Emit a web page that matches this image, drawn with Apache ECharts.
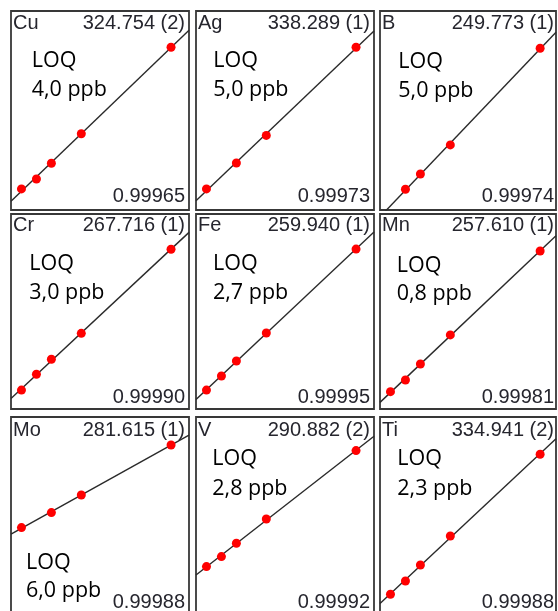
<!DOCTYPE html>
<html><head><meta charset="utf-8">
<script src="https://cdn.jsdelivr.net/npm/echarts@6/dist/echarts.min.js"></script>
<style>html,body{margin:0;padding:0;background:#fff}#c{width:558px;height:611px}</style>
</head><body><div id="c"></div>
<script>
// ---- data ----
const elements = ['Cu','Ag','B','Cr','Fe','Mn','Mo','V','Ti'];
const wavelengths = ['324.754 (2)','338.289 (1)','249.773 (1)','267.716 (1)','259.940 (1)','257.610 (1)','281.615 (1)','290.882 (2)','334.941 (2)'];
const loqValues = ['4,0 ppb','5,0 ppb','5,0 ppb','3,0 ppb','2,7 ppb','0,8 ppb','6,0 ppb','2,8 ppb','2,3 ppb'];
const correlations = ['0.99965','0.99973','0.99974','0.99990','0.99995','0.99981','0.99988','0.99992','0.99988'];

// concentration (ppb) and signal (relative units) of each standard
const concCu = [0,10,20,40,100];   const signalCu = [10.6,15.6,23.5,38.3,81.8];
const concAg = [0,20,40,100];      const signalAg = [10.6,23.6,37.5,81.8];
const concB  = [10,20,40,100];     const signalB  = [10.4,18.1,32.7,81.3];
const concCr = [0,10,20,40,100];   const signalCr = [9.7,17.8,25.5,38.8,81.9];
const concFe = [0,10,20,40,100];   const signalFe = [9.7,16.9,24.6,39.0,82.0];
const concMn = [0,10,20,40,100];   const signalMn = [8.9,14.9,23.1,38.0,81.0];
const concMo = [0,20,40,100];      const signalMo = [44.7,52.2,61.0,86.0];
const concV  = [0,10,20,40,100];   const signalV  = [25.2,30.2,36.9,49.0,83.2];
const concTi = [0,10,20,40,100];   const signalTi = [11.4,18.0,26.0,40.5,81.4];

const concs = [concCu,concAg,concB,concCr,concFe,concMn,concMo,concV,concTi];
const signals = [signalCu,signalAg,signalB,signalCr,signalFe,signalMn,signalMo,signalV,signalTi];

// ---- layout ----
const colLeft = [11,196,380], colWidth = [178,178,176], colXMax = [112,112,110.6];
const rowTop = [11,214,417], rowHeight = [199,195,200];
const labelY = [23.5,225.5,430.5], corrY = [196,397,602.5];
const loqPos = [[31.7,61,90],[213.3,61,90.2],[398.3,62,90.8],
                [29.3,264,292.5],[213,264,293],[396.7,265.5,294],
                [26,562.5,590.8],[212.3,459,489],[397.3,459,489]];
const X_MIN = -7;

function fit(xs, ys){
  const n = xs.length;
  const mx = xs.reduce((a,b)=>a+b,0)/n, my = ys.reduce((a,b)=>a+b,0)/n;
  let sxy=0, sxx=0;
  for(let i=0;i<n;i++){sxy+=(xs[i]-mx)*(ys[i]-my); sxx+=(xs[i]-mx)*(xs[i]-mx);}
  const b = sxy/sxx; return {a: my-b*mx, b};
}

const grids=[], xAxes=[], yAxes=[], series=[], graphics=[];
const labelFont = '20px "Liberation Sans", Arial, sans-serif';
const loqFont = '21.5px "Open Sans", sans-serif';
const txtColor = '#26262e';

elements.forEach((el,i)=>{
  const r = Math.floor(i/3), c = i%3;
  const left = colLeft[c], top = rowTop[r], w = colWidth[c];
  grids.push({left, top, width:w, height:rowHeight[r], show:true, outerBoundsMode:'none', borderColor:'#383838', borderWidth:1.8, backgroundColor:'#fff', containLabel:false});
  xAxes.push({type:'value', gridIndex:i, min:X_MIN, max:colXMax[c], show:false});
  yAxes.push({type:'value', gridIndex:i, min:0, max:100, show:false});
  const f = fit(concs[i], signals[i]);
  const x0 = X_MIN, x1 = colXMax[c];
  series.push({type:'line', xAxisIndex:i, yAxisIndex:i, data:[[x0,f.a+f.b*x0],[x1,f.a+f.b*x1]],
    showSymbol:false, symbol:'none', clip:true, silent:true, animation:false, z:2,
    lineStyle:{color:'#2a2a2a', width:1.4}});
  series.push({type:'scatter', xAxisIndex:i, yAxisIndex:i, data:concs[i].map((x,k)=>[x,signals[i][k]]),
    symbol:'circle', symbolSize:9, clip:false, animation:false, z:3,
    itemStyle:{color:'#ff0000', opacity:1}});
  const rightX = left + 174;
  const mk = (text,x,y,align,font,fill)=>({type:'text', x, y, silent:true, z:10,
    style:{text, font, fill, align, textAlign:align, verticalAlign:'middle', textVerticalAlign:'middle'}});
  graphics.push(mk(el, left+2, labelY[r], 'left', labelFont, txtColor));
  graphics.push(mk(wavelengths[i], rightX, labelY[r], 'right', labelFont, txtColor));
  graphics.push(mk(correlations[i], rightX, corrY[r], 'right', labelFont, txtColor));
  graphics.push(mk('LOQ', loqPos[i][0], loqPos[i][1], 'left', loqFont, '#000'));
  graphics.push(mk(loqValues[i], loqPos[i][0], loqPos[i][2], 'left', loqFont, '#000'));
});

const chart = echarts.init(document.getElementById('c'), null, {renderer:'canvas'});
chart.setOption({backgroundColor:'#fff', animation:false, grid:grids, xAxis:xAxes, yAxis:yAxes, series, graphic:{elements:graphics}});
</script></body></html>
